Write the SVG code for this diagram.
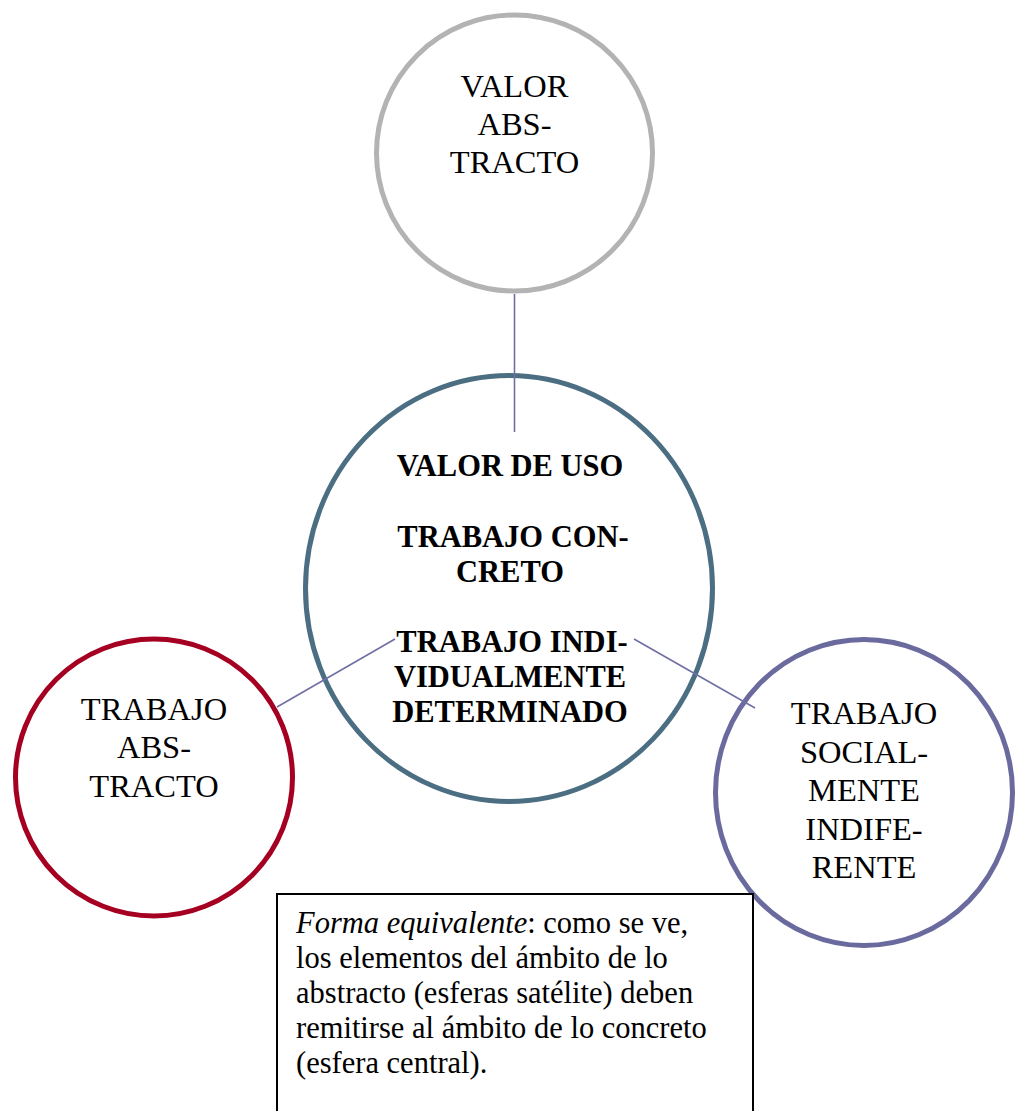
<svg xmlns="http://www.w3.org/2000/svg" width="1015" height="1111" viewBox="0 0 1015 1111">
<style>
.node{fill:#fff;stroke-width:5}
.t{font-family:"Liberation Serif","Times New Roman",serif;font-size:32.5px;fill:#000;text-anchor:middle}
.b{font-family:"Liberation Serif","Times New Roman",serif;font-size:30.5px;font-weight:bold;fill:#000;text-anchor:middle}
.n{font-family:"Liberation Serif","Times New Roman",serif;font-size:30.5px;fill:#000}
.conn{stroke:#6F6FA6;stroke-width:1.6;fill:none}
</style>
<rect width="1015" height="1111" fill="#fff"/>
<g id="top">
<circle class="node" cx="514.5" cy="153" r="138" stroke="#B3B3B3"/>
<text class="t" x="514.5" y="97">VALOR</text>
<text class="t" x="514.5" y="135">ABS-</text>
<text class="t" x="514.5" y="173">TRACTO</text>
</g>
<g id="left">
<circle class="node" cx="154" cy="777.5" r="138.5" stroke="#A50021"/>
<text class="t" x="154" y="720">TRABAJO</text>
<text class="t" x="154" y="758">ABS-</text>
<text class="t" x="154" y="797">TRACTO</text>
</g>
<g id="right">
<ellipse class="node" cx="864" cy="792.5" rx="148.5" ry="153" stroke="#6A6A9E"/>
<text class="t" x="864" y="724">TRABAJO</text>
<text class="t" x="864" y="763">SOCIAL-</text>
<text class="t" x="864" y="801">MENTE</text>
<text class="t" x="864" y="840">INDIFE-</text>
<text class="t" x="864" y="878">RENTE</text>
</g>
<g id="center">
<ellipse class="node" cx="509" cy="588.5" rx="203.5" ry="213" stroke="#4B6E82"/>
<text class="b" x="510" y="476">VALOR DE USO</text>
<text class="b" x="513" y="547">TRABAJO CON-</text>
<text class="b" x="510" y="582">CRETO</text>
<text class="b" x="512" y="652">TRABAJO INDI-</text>
<text class="b" x="510" y="687">VIDUALMENTE</text>
<text class="b" x="510" y="722">DETERMINADO</text>
</g>
<g id="connectors">
<line class="conn" x1="514.5" y1="294" x2="514.5" y2="432"/>
<line class="conn" x1="277" y1="707" x2="395" y2="639"/>
<line class="conn" x1="634" y1="639" x2="755" y2="708"/>
</g>
<g id="note">
<rect x="277" y="894" width="476" height="240" fill="#fff" stroke="#000" stroke-width="2"/>
<text class="n" x="296" y="933"><tspan font-style="italic">Forma equivalente</tspan>: como se ve,</text>
<text class="n" x="296" y="968">los elementos del ámbito de lo</text>
<text class="n" x="296" y="1003">abstracto (esferas satélite) deben</text>
<text class="n" x="296" y="1038">remitirse al ámbito de lo concreto</text>
<text class="n" x="296" y="1073">(esfera central).</text>
</g>
</svg>
